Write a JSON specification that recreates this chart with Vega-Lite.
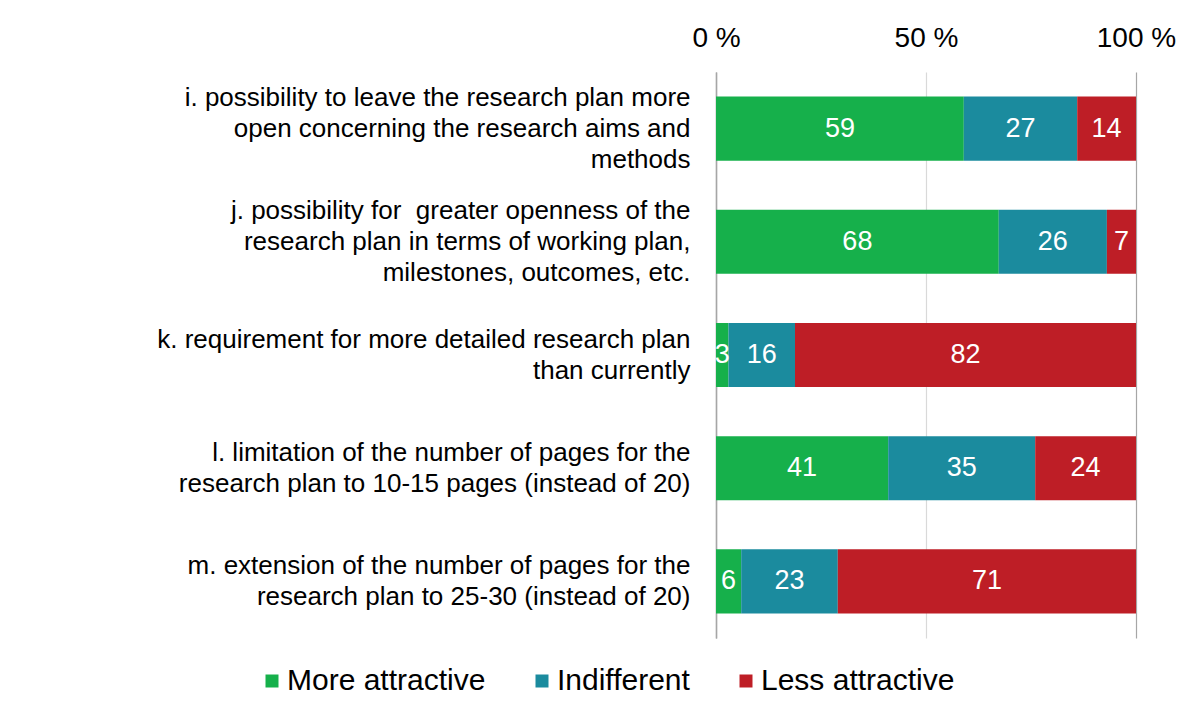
{
  "$schema": "https://vega.github.io/schema/vega-lite/v6.json",
  "width": 420,
  "height": 566,
  "autosize": {"type": "none"},
  "padding": {"left": 716, "top": 72, "right": 65, "bottom": 73},
  "background": "white",
  "data": {
    "values": [
      {"item": "i. possibility to leave the research plan more|open concerning the research aims and|methods", "resp": "More attractive", "ord": 1, "value": 59},
      {"item": "i. possibility to leave the research plan more|open concerning the research aims and|methods", "resp": "Indifferent", "ord": 2, "value": 27},
      {"item": "i. possibility to leave the research plan more|open concerning the research aims and|methods", "resp": "Less attractive", "ord": 3, "value": 14},
      {"item": "j. possibility for \u00a0greater openness of the|research plan in terms of working plan,|milestones, outcomes, etc.", "resp": "More attractive", "ord": 1, "value": 68},
      {"item": "j. possibility for \u00a0greater openness of the|research plan in terms of working plan,|milestones, outcomes, etc.", "resp": "Indifferent", "ord": 2, "value": 26},
      {"item": "j. possibility for \u00a0greater openness of the|research plan in terms of working plan,|milestones, outcomes, etc.", "resp": "Less attractive", "ord": 3, "value": 7},
      {"item": "k. requirement for more detailed research plan|than currently", "resp": "More attractive", "ord": 1, "value": 3},
      {"item": "k. requirement for more detailed research plan|than currently", "resp": "Indifferent", "ord": 2, "value": 16},
      {"item": "k. requirement for more detailed research plan|than currently", "resp": "Less attractive", "ord": 3, "value": 82},
      {"item": "l. limitation of the number of pages for the|research plan to 10-15 pages (instead of 20)", "resp": "More attractive", "ord": 1, "value": 41},
      {"item": "l. limitation of the number of pages for the|research plan to 10-15 pages (instead of 20)", "resp": "Indifferent", "ord": 2, "value": 35},
      {"item": "l. limitation of the number of pages for the|research plan to 10-15 pages (instead of 20)", "resp": "Less attractive", "ord": 3, "value": 24},
      {"item": "m. extension of the number of pages for the|research plan to 25-30 (instead of 20)", "resp": "More attractive", "ord": 1, "value": 6},
      {"item": "m. extension of the number of pages for the|research plan to 25-30 (instead of 20)", "resp": "Indifferent", "ord": 2, "value": 23},
      {"item": "m. extension of the number of pages for the|research plan to 25-30 (instead of 20)", "resp": "Less attractive", "ord": 3, "value": 71}
    ]
  },
  "transform": [
    {"stack": "value", "groupby": ["item"], "sort": [{"field": "ord", "order": "ascending"}], "offset": "normalize", "as": ["x0", "x1"]},
    {"calculate": "(datum.x0 + datum.x1) / 2", "as": "xm"}
  ],
  "encoding": {
    "y": {
      "field": "item",
      "type": "nominal",
      "sort": null,
      "scale": {"paddingInner": 0.434, "paddingOuter": 0.217},
      "axis": {
        "title": null,
        "labelExpr": "split(datum.label, '|')",
        "labelFontSize": 26,
        "labelLineHeight": 31,
        "labelLimit": 0,
        "labelColor": "#000000",
        "labelPadding": 26,
        "labelOffset": {"condition": {"test": "length(split(datum.value, '|')) == 3", "value": -31}, "value": -15.5},
        "ticks": false,
        "domain": true,
        "domainColor": "#a6a6a6",
        "domainWidth": 1.5,
        "grid": false
      }
    }
  },
  "layer": [
    {
      "mark": {"type": "bar"},
      "encoding": {
        "x": {
          "field": "x0",
          "type": "quantitative",
          "scale": {"domain": [0, 1], "nice": false},
          "axis": {
            "orient": "top",
            "title": null,
            "values": [0, 0.5, 1],
            "labelExpr": "format(datum.value * 100, 'd') + ' %'",
            "labelFontSize": 28,
            "labelColor": "#000000",
            "labelFlush": false,
            "labelPadding": 20,
            "ticks": false,
            "tickSize": 0,
            "domain": false,
            "grid": true,
            "gridColor": {"condition": {"test": "datum.value === 0.5", "value": "#d9d9d9"}, "value": "#a6a6a6"},
            "gridWidth": 1.2
          }
        },
        "x2": {"field": "x1"},
        "color": {
          "field": "resp",
          "type": "nominal",
          "scale": {
            "domain": ["More attractive", "Indifferent", "Less attractive"],
            "range": ["#16b04b", "#1b8b9e", "#be1e26"]
          },
          "legend": {
            "title": null,
            "orient": "none",
            "direction": "horizontal",
            "legendX": -459,
            "legendY": 594,
            "symbolType": "square",
            "symbolSize": 169,
            "symbolStrokeWidth": 0,
            "labelFontSize": 30,
            "labelColor": "#000000",
            "labelOffset": 0,
            "columnPadding": 41,
            "labelLimit": 0
          }
        }
      }
    },
    {
      "mark": {"type": "text", "color": "white", "fontSize": 27, "baseline": "middle", "align": "center"},
      "encoding": {
        "x": {"field": "xm", "type": "quantitative"},
        "text": {"field": "value", "type": "quantitative"}
      }
    }
  ],
  "config": {
    "font": "Liberation Sans",
    "view": {"stroke": null}
  }
}
